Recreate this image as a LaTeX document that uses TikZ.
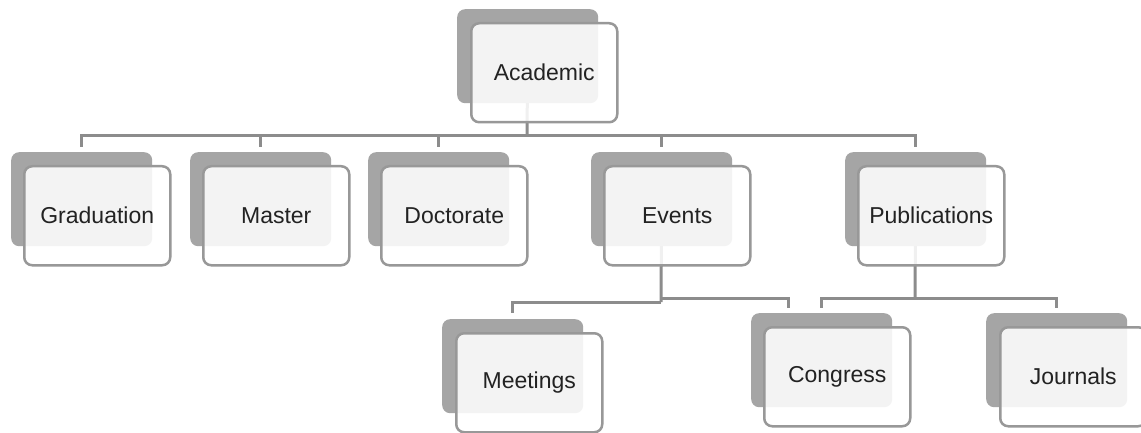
\documentclass[tikz,border=0pt]{standalone}
\usepackage{fontspec}
\setmainfont{Liberation Sans}
\usetikzlibrary{backgrounds}
\definecolor{shadegray}{RGB}{165,165,165}
\definecolor{rimgray}{RGB}{152,152,152}
\definecolor{linkgray}{RGB}{140,140,140}
\definecolor{inkgray}{RGB}{34,34,34}
\begin{document}
\begin{tikzpicture}[x=1pt,y=-1pt]
\tikzset{backcard/.style={rectangle,rounded corners=8pt,fill=shadegray,inner sep=0pt,minimum width=141pt,minimum height=94pt,anchor=north west}}
\tikzset{frontcard/.style={rectangle,rounded corners=8pt,draw=rimgray,line width=2.5pt,fill=white,fill opacity=0.87,text opacity=1,text=inkgray,inner sep=0pt,minimum width=146pt,minimum height=99pt,anchor=north west,font=\fontsize{23}{27}\selectfont}}
\tikzset{link/.style={draw=linkgray,line width=3pt}}
\useasboundingbox (0,0) rectangle (1141,433);

\node[backcard](acad-bk) at (457,9){};
\node[frontcard](acad) at ([shift={(13,13)}]acad-bk.north west){Academic};

\node[backcard](grad-bk) at (11,152){};
\node[frontcard](grad) at ([shift={(12,13)}]grad-bk.north west){Graduation};
\node[backcard](mast-bk) at (190,152){};
\node[frontcard](mast) at ([shift={(12,13)}]mast-bk.north west){Master};
\node[backcard](doct-bk) at (368,152){};
\node[frontcard](doct) at ([shift={(12,13)}]doct-bk.north west){Doctorate};
\node[backcard](evnt-bk) at (591,152){};
\node[frontcard](evnt) at ([shift={(12,13)}]evnt-bk.north west){Events};
\node[backcard](publ-bk) at (845,152){};
\node[frontcard](publ) at ([shift={(12,13)}]publ-bk.north west){Publications};

\node[backcard](meet-bk) at (442,319){};
\node[frontcard](meet) at ([shift={(13,13)}]meet-bk.north west){Meetings};
\node[backcard](cong-bk) at (751,313){};
\node[frontcard](cong) at ([shift={(12,13)}]cong-bk.north west){Congress};
\node[backcard](jour-bk) at (986,313){};
\node[frontcard](jour) at ([shift={(13,13)}]jour-bk.north west){Journals};

\begin{pgfonlayer}{background}
\fill[white] (0,0) rectangle (1141,433);
\coordinate (bar1) at (527,136);
\coordinate (bar2l) at (661,302);
\coordinate (bar2r) at (661,298);
\coordinate (loose) at (788,308);
\coordinate (bar3) at (915,298);

\draw[link] (acad-bk.center) -- (bar1);
\foreach \n in {grad,mast,doct,evnt,publ}
  \draw[link] (bar1) -| ([yshift=5pt]\n-bk.north);

\draw[link] (evnt-bk.center) -- (bar2l);
\draw[link] (bar2l) -| ([yshift=6pt]meet-bk.north);
\draw[link] (bar2r) -| (loose);

\draw[link] (publ-bk.center) -- (bar3);
\draw[link] (bar3) -| ([yshift=5pt]cong-bk.north);
\draw[link] (bar3) -| ([yshift=5pt]jour-bk.north);
\end{pgfonlayer}
\end{tikzpicture}
\end{document}
